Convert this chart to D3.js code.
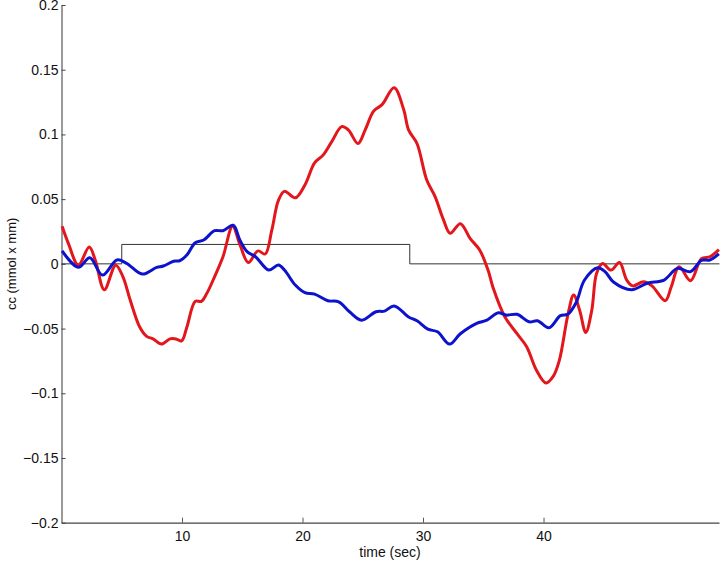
<!DOCTYPE html>
<html>
<head>
<meta charset="utf-8">
<script src="https://cdn.jsdelivr.net/npm/d3@7"></script>
<style>
  html, body { margin: 0; padding: 0; background: #fff; }
  svg { display: block; }
  text { font-family: "Liberation Sans", Arial, Helvetica, sans-serif; }
</style>
</head>
<body>
<svg id="chart" width="720" height="561"></svg>
<script>
// ---- data ----
const redT = [0.05,0.6,1.4,2.3,2.8,3.55,4.5,5.1,5.7,6.5,7.07,7.6,8.3,9.0,9.5,9.97,10.4,11.1,11.6,12.05,12.7,13.4,14.2,14.8,15.5,16.3,16.9,17.45,18.0,18.5,19.4,20.2,21.0,21.7,22.4,23.25,23.8,24.6,25.2,25.9,26.6,27.6,28.4,28.8,29.5,30.3,31.0,31.7,32.25,33.1,33.9,34.7,35.4,35.8,36.8,37.8,38.6,39.4,40.2,40.8,41.3,42.05,42.5,43.0,43.5,44.0,44.4,44.9,45.6,46.3,46.9,47.4,48.3,49.0,50.1,50.6,51.25,52.2,53.1,53.8,54.55];
const redV = [0.029,0.015,-0.001,0.013,0.003,-0.020,-0.001,-0.010,-0.028,-0.049,-0.056,-0.058,-0.062,-0.058,-0.058,-0.0595,-0.049,-0.029,-0.029,-0.023,-0.010,0.0055,0.029,0.015,0.001,0.010,0.0076,0.026,0.049,0.056,0.051,0.061,0.078,0.084,0.094,0.106,0.1035,0.093,0.1035,0.118,0.123,0.136,0.119,0.1035,0.093,0.065,0.052,0.034,0.0236,0.031,0.0197,0.0107,-0.005,-0.018,-0.041,-0.054,-0.064,-0.082,-0.092,-0.087,-0.075,-0.038,-0.024,-0.036,-0.053,-0.036,-0.0074,0.0002,-0.0048,0.001,-0.0125,-0.017,-0.0138,-0.017,-0.0285,-0.0177,-0.0022,-0.013,0.004,0.0055,0.011];

const blueT = [0.05,1.4,2.35,3.4,4.6,5.4,6.7,7.9,8.45,9.3,9.8,10.4,11.1,11.8,12.7,13.4,14.25,14.8,15.4,16.1,17.2,18.0,18.5,19.4,20.2,21.0,22.1,23.0,23.9,24.9,26.1,26.8,27.6,28.8,29.5,30.4,31.2,32.2,33.1,34.45,35.3,36.25,36.9,37.8,38.8,39.5,40.45,41.4,42.0,42.7,43.4,44.5,45.1,45.8,47.3,48.6,50.0,51.1,52.2,53.1,53.8,54.55];
const blueV = [0.010,-0.0027,0.0047,-0.0087,0.003,0.0004,-0.0079,-0.0027,-0.0017,0.002,0.0024,0.0068,0.0163,0.0184,0.0256,0.0256,0.0298,0.0184,0.0094,0.0055,-0.0048,-0.0009,-0.0048,-0.0164,-0.0223,-0.0234,-0.0285,-0.0293,-0.037,-0.0435,-0.037,-0.0365,-0.0325,-0.041,-0.044,-0.0505,-0.0525,-0.062,-0.054,-0.046,-0.0435,-0.0378,-0.0396,-0.039,-0.0448,-0.044,-0.0494,-0.040,-0.039,-0.030,-0.0125,-0.003,-0.006,-0.014,-0.020,-0.015,-0.0125,-0.0035,-0.006,0.0027,0.003,0.0077];

const stimT = [0, 5, 5, 28.9, 28.9, 54.6];
const stimV = [0, 0, 0.015, 0.015, 0, 0];

const xTicks = [10, 20, 30, 40];
const yTicks = [-0.2, -0.15, -0.1, -0.05, 0, 0.05, 0.1, 0.15, 0.2];
const yTickLabels = ["\u22120.2", "\u22120.15", "\u22120.1", "\u22120.05", "0", "0.05", "0.1", "0.15", "0.2"];
const xLabel = "time (sec)";
const yLabel = "cc (mmol x mm)";

// ---- layout ----
const mLeft = 61.5, mRight = 719, mTop = 5, mBottom = 522.7;
const svg = d3.select("#chart");

const x = d3.scaleLinear().domain([0, 54.56]).range([mLeft, mRight]);
const y = d3.scaleLinear().domain([-0.2, 0.2]).range([mBottom, mTop]);

// axes
const yAxis = d3.axisLeft(y)
  .tickValues(yTicks)
  .tickFormat((d, i) => yTickLabels[i])
  .tickSizeInner(-4).tickSizeOuter(0).tickPadding(3);
const gy = svg.append("g").attr("transform", `translate(${mLeft},0)`).call(yAxis);
gy.select(".domain").attr("stroke", "#9a9a9a").attr("stroke-width", 2);
gy.selectAll(".tick line").attr("stroke", "#444");
gy.selectAll(".tick text").attr("font-size", 14).attr("fill", "#111");

const xAxis = d3.axisBottom(x)
  .tickValues(xTicks)
  .tickSizeInner(-5).tickSizeOuter(0).tickPadding(8);
const gx = svg.append("g").attr("transform", `translate(0,${mBottom})`).call(xAxis);
gx.select(".domain").attr("stroke", "#444").attr("stroke-width", 1.2);
gx.selectAll(".tick line").attr("stroke", "#555");
gx.selectAll(".tick text").attr("font-size", 14).attr("fill", "#111");

// labels
svg.append("text")
  .attr("x", 390).attr("y", 557)
  .attr("text-anchor", "middle").attr("font-size", 14).attr("fill", "#111")
  .text(xLabel);
svg.append("text")
  .attr("transform", `translate(16,${y(0)}) rotate(-90)`)
  .attr("text-anchor", "middle").attr("font-size", 13).attr("fill", "#111")
  .text(yLabel);

// stimulus
const stim = stimT.map((t, i) => [t, stimV[i]]);
svg.append("path")
  .datum(stim)
  .attr("fill", "none").attr("stroke", "#333").attr("stroke-width", 1)
  .attr("d", d3.line().x(d => x(d[0])).y(d => y(d[1])));

// curves
const line = d3.line().x(d => x(d[0])).y(d => y(d[1])).curve(d3.curveCatmullRom.alpha(0.5));
const red = redT.map((t, i) => [t, redV[i]]);
const blue = blueT.map((t, i) => [t, blueV[i]]);

svg.append("path").datum(red)
  .attr("fill", "none").attr("stroke", "#e3161b").attr("stroke-width", 3)
  .attr("stroke-linejoin", "round").attr("d", line);
svg.append("path").datum(blue)
  .attr("fill", "none").attr("stroke", "#0d12cc").attr("stroke-width", 3)
  .attr("stroke-linejoin", "round").attr("d", line);
</script>
</body>
</html>
